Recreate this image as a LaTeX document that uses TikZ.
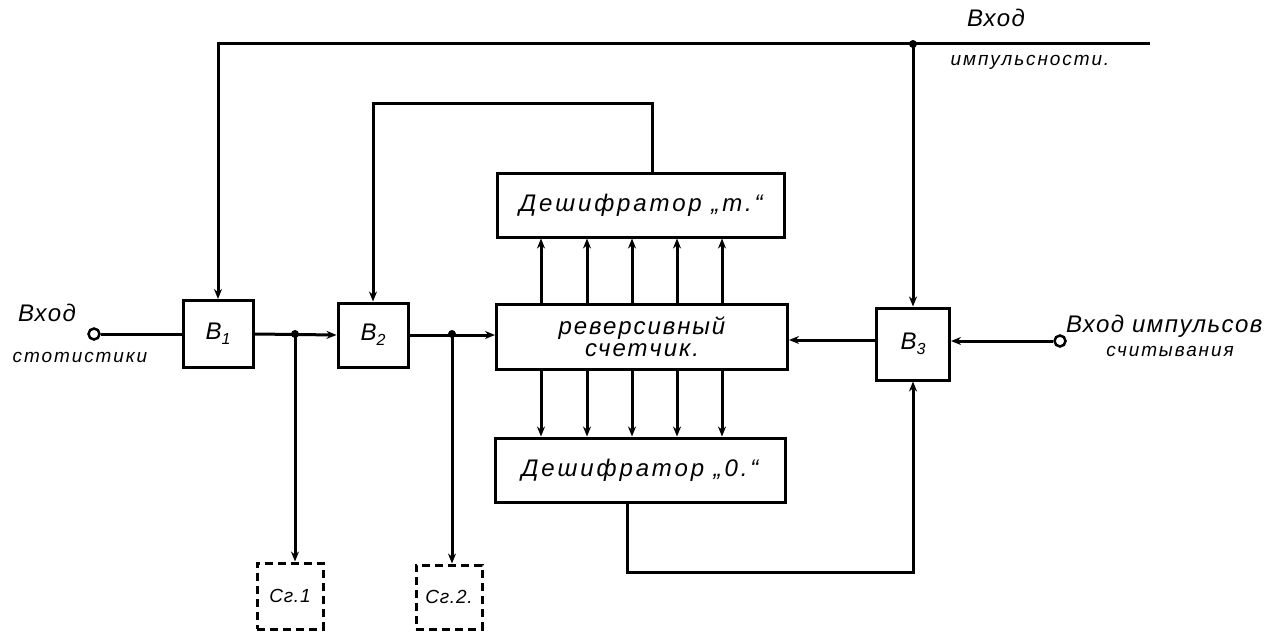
\documentclass[tikz,border=0pt]{standalone}
\usepackage{fontspec}
\setmainfont{Liberation Sans}
\usetikzlibrary{arrows.meta}
\tikzset{
  blk/.style={draw, line width=3pt, inner sep=0pt, font=\fontsize{24}{26}\selectfont\itshape},
  dblk/.style={blk, dash pattern=on 8pt off 5pt, font=\fontsize{19}{21}\selectfont\itshape\addfontfeature{LetterSpace=4}},
  wire/.style={line width=3pt},
  arr/.style={wire, -{Stealth[length=10pt,width=8pt]}},
  term/.style={circle, draw, line width=2.5pt, minimum size=11pt, inner sep=0pt},
  dot/.style={circle, fill, minimum size=8pt, inner sep=0pt},
  lbl/.style={inner sep=0pt, font=\fontsize{24}{26}\selectfont\itshape\addfontfeature{LetterSpace=6}},
  slbl/.style={inner sep=0pt, font=\fontsize{19}{21}\selectfont\itshape\addfontfeature{LetterSpace=10}}
}
\begin{document}
\begin{tikzpicture}[x=1pt,y=-1pt]
\useasboundingbox (0,0) rectangle (1288,634);
% blocks
\node[blk, minimum width=70pt, minimum height=67pt] (b1) at (218,334) {В\raisebox{-5pt}{\fontsize{16}{17}\selectfont 1}};
\node[blk, minimum width=70pt, minimum height=64pt] (b2) at (373,335) {В\raisebox{-5pt}{\fontsize{16}{17}\selectfont 2}};
\node[blk, minimum width=73pt, minimum height=72pt] (b3) at (913,344) {В\raisebox{-5pt}{\fontsize{16}{17}\selectfont 3}};
\node[blk, minimum width=291pt, minimum height=65pt, align=center, font=\fontsize{24}{18}\selectfont\itshape\addfontfeature{LetterSpace=8}] (cnt) at (642,337) {\raisebox{6pt}{реверсивный}\\[-2pt]счетчик.};
\node[blk, minimum width=287pt, minimum height=64pt, font=\fontsize{24}{26}\selectfont\itshape\addfontfeature{LetterSpace=12}] (decm) at (641,205) {Дешифратор „m.“};
\node[blk, minimum width=290pt, minimum height=64pt, font=\fontsize{24}{26}\selectfont\itshape\addfontfeature{LetterSpace=12}] (dec0) at (640,470) {Дешифратор „0.“};
\node[dblk, minimum width=66pt, minimum height=66pt] (cr1) at (290,596) {Сг.1};
\node[dblk, minimum width=66pt, minimum height=64pt] (cr2) at (449,597) {Сг.2.};
% terminals
\node[term] (in1) at (94,334) {};
\node[term] (in3) at (1060,341) {};
\coordinate (topend) at (1150,44);
\coordinate (j1) at (295,334);
\coordinate (j2) at (452,334);
\coordinate (j3) at (913,44);
\coordinate (fb) at (652,103);
\coordinate (fb0) at (627,572);
\node[dot] at (j1) {};
\node[dot] at (j2) {};
\node[dot] at (j3) {};
% labels
\node[lbl] (lin1) at (47,313) {Вход};
\node[slbl] (lin1b) at (80,357) {стотистики};
\node[lbl] (ltop) at (996,18) {Вход};
\node[slbl] (ltopb) at (1030,62) {импульсности.};
\node[lbl, anchor=west] (lin3) at (1066,326) {Вход импульсов};
\node[slbl] (lin3b) at (1170,351) {считывания};
% connectors
\draw[wire] (in1) -- (b1.west);
\draw[arr] (b1.east) -- (b2.west);
\draw[arr] (j1) -- (j1 |- cr1.north);
\draw[arr] (b2.east) -- (b2.east -| cnt.west);
\draw[arr] (j2) -- (j2 |- cr2.north);
\draw[arr] (topend) -| (b1.north);
\draw[arr] (j3) -- (b3.north);
\draw[arr] (decm.north -| fb) -- (fb) -| (b2.north);
\draw[arr] (dec0.south -| fb0) -- (fb0) -| (b3.south);
\draw[arr] (b3.west |- 0,340) -- (cnt.east |- 0,340);
\draw[arr] (in3) -- (b3.east |- in3);
\foreach \x in {541,587,632,677,722} {
  \draw[arr] (cnt.north -| \x,0) -- (decm.south -| \x,0);
  \draw[arr] (cnt.south -| \x,0) -- (dec0.north -| \x,0);
}
\end{tikzpicture}
\end{document}
